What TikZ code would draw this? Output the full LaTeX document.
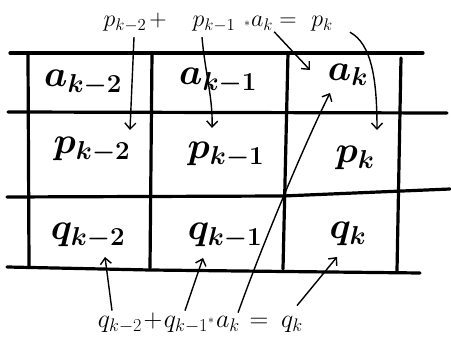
\documentclass[tikz,border=0pt]{standalone}
\usepackage{fix-cm}
\usepackage{amsmath}
\usetikzlibrary{arrows.meta, calc}

\begin{document}
\begin{tikzpicture}[x=1pt, y=-1pt, >={Straight Barb[length=6pt,width=11pt]},
    gridline/.style={line width=3.2pt, line cap=round},
    cell/.style={inner sep=1pt, font=\fontsize{37}{42}\selectfont\boldmath},
    ptext/.style={anchor=base, inner sep=1pt, font=\fontsize{24}{28}\selectfont},
    qtext/.style={anchor=base, inner sep=1pt, font=\fontsize{26}{30}\selectfont},
    arr/.style={->, line width=1.4pt}]
        \useasboundingbox (0,0) rectangle (451,345);

        % table lines
        \draw[gridline] (10,53) -- (423,53);
        \draw[gridline] (8,112) -- (447,113);
        \draw[gridline] (7,197) -- (283,196) -- (450,189);
        \draw[gridline] (7,267) -- (150,270) -- (420,273);
        \draw[gridline] (28,55) -- (29,266);
        \draw[gridline] (152,53) -- (150,268);
        \draw[gridline] (288,53) -- (283,269);
        \draw[gridline] (401,58) -- (397,271);

        % cells
        \node[cell] (ak2) at (83,83) {$a_{k-2}$};
        \node[cell] (ak1) at (218,81) {$a_{k-1}$};
        \node[cell] (ak) at (348,75) {$a_k$};
        \node[cell] (pk2) at (92,150) {$p_{k-2}$};
        \node[cell] (pk1) at (226,155) {$p_{k-1}$};
        \node[cell] (pk) at (355,158) {$p_k$};
        \node[cell] (qk2) at (88,236) {$q_{k-2}$};
        \node[cell] (qk1) at (225,236) {$q_{k-1}$};
        \node[cell] (qk) at (348,234) {$q_k$};

        % p formula
        \node[ptext] (tp2) at (125,27) {$p_{k-2}$};
        \node[ptext] (tplus) at (158,27) {$+$};
        \node[ptext] (tp1) at (214,27) {$p_{k-1}$};
        \node[ptext, font=\large] (tstar) at (247,27) {$\ast$};
        \node[ptext] (tak) at (262,27) {$a_k$};
        \node[ptext] (teq) at (288,27) {$=$};
        \node[ptext] (tpk) at (322,27) {$p_k$};

        % q formula
        \node[qtext] (bq2) at (120,328) {$q_{k-2}$};
        \node[qtext] (bplus) at (153,328) {$+$};
        \node[qtext] (bq1) at (186,328) {$q_{k-1}$};
        \node[qtext, font=\large] (bstar) at (211,324) {$\ast$};
        \node[qtext] (bak) at (228,328) {$a_k$};
        \node[qtext] (beq) at (259,328) {$=$};
        \node[qtext] (bqk) at (292,328) {$q_k$};

        % arrow tips
        \coordinate (e1) at (130,130);
        \coordinate (e2) at (212,128);
        \coordinate (e3) at (310,70);
        \coordinate (e4) at (377,130);
        \coordinate (e5) at (330,93);
        \coordinate (e6) at (105,257);
        \coordinate (e7) at (203,258);
        \coordinate (e8) at (337,257);

        \draw[arr] ($(tp2.south)+(9,4)$) -- (e1);
        \draw[arr] ($(tp1.south)+(-12,4)$) .. controls +(3,35) and +(1,-30) .. (e2);
        \draw[arr] (tak.south east) -- (e3);
        \draw[arr] ($(tpk.east)+(16,8)$) .. controls +(22,12) and +(0,-50) .. (e4);
        \draw[arr] ($(bak.north east)+(-3,-3)$) .. controls +(25,-70) and +(-25,50) .. (e5);
        \draw[arr] ($(bq2.north)+(-8,-5)$) -- (e6);
        \draw[arr] ($(bq1.north)+(-1,-5)$) -- (e7);
        \draw[arr] ($(bqk.north)+(5,-10)$) -- (e8);
    \end{tikzpicture}
\end{document}
